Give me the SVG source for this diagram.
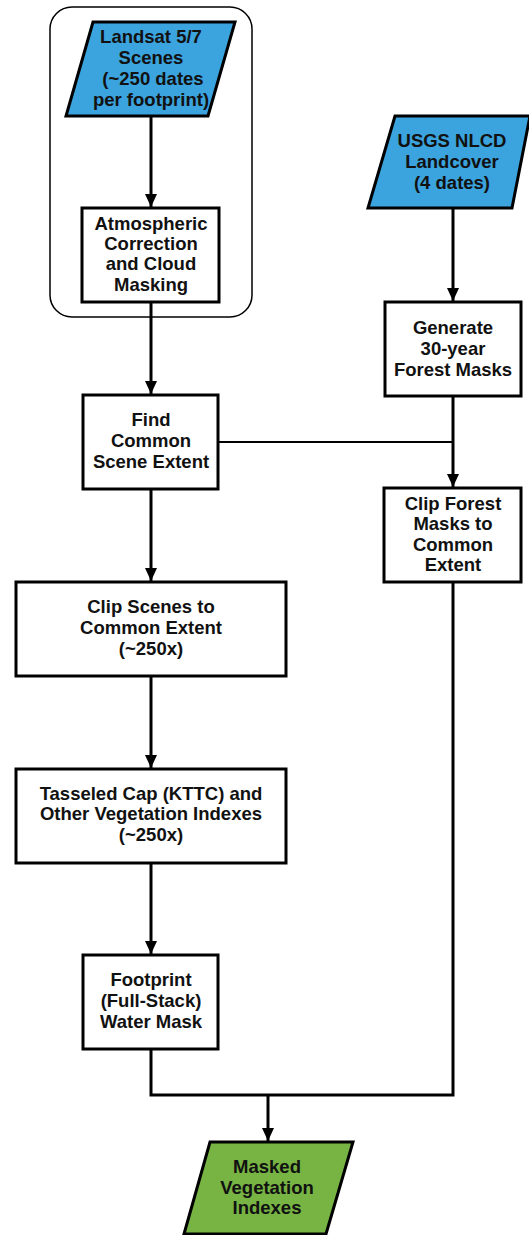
<svg xmlns="http://www.w3.org/2000/svg" width="529" height="1235" viewBox="0 0 529 1235">
<style>
.box{fill:#fff;stroke:#000;stroke-width:3}
.in{fill:#3ba3dd;stroke:#000;stroke-width:3;stroke-linejoin:miter}
.out{fill:#77b443;stroke:#000;stroke-width:3}
.c{fill:none;stroke:#000;stroke-width:3}
.thin{fill:none;stroke:#000;stroke-width:2}
text{font-family:"Liberation Sans",Arial,sans-serif;font-weight:bold;font-size:18.5px;text-anchor:middle;fill:#111}
</style>
<defs>
<marker id="ah" markerUnits="userSpaceOnUse" markerWidth="14" markerHeight="14" viewBox="0 0 14 14" refX="13" refY="7" orient="auto">
<path d="M0,1 L13,7 L0,13 Z" fill="#000"/>
</marker>
</defs>
<rect x="50" y="7" width="202" height="310" rx="22" ry="22" fill="none" stroke="#000" stroke-width="1.5"/>
<g id="connectors">
<path class="c" d="M151,116 V207" marker-end="url(#ah)"/>
<path class="c" d="M151,302 V394" marker-end="url(#ah)"/>
<path class="c" d="M453,208 V301" marker-end="url(#ah)"/>
<path class="c" d="M453,396 V487" marker-end="url(#ah)"/>
<path class="thin" d="M218,442 H453"/>
<path class="c" d="M151,489 V581" marker-end="url(#ah)"/>
<path class="c" d="M151,676 V768" marker-end="url(#ah)"/>
<path class="c" d="M151,863 V954" marker-end="url(#ah)"/>
<path class="c" d="M151,1049 V1095 H453 V582"/>
<path class="c" d="M268,1095 V1141" marker-end="url(#ah)"/>
</g>
<g id="landsat">
<polygon class="in" points="93,22 235,22 208,116 66,116"/>
<text x="151" y="42.5">Landsat 5/7</text>
<text x="151" y="63.5">Scenes</text>
<text x="153" y="84.5">(~250 dates</text>
<text x="151" y="105.5">per footprint)</text>
</g>
<g id="atmos">
<rect class="box" x="82" y="208" width="137" height="94"/>
<text x="151" y="229.5">Atmospheric</text>
<text x="151" y="249.5">Correction</text>
<text x="151" y="269.5">and Cloud</text>
<text x="151" y="290.5">Masking</text>
</g>
<g id="nlcd">
<polygon class="in" points="395,116 530,116 512,208 368,208"/>
<text x="452" y="146.5">USGS NLCD</text>
<text x="452" y="167.5">Landcover</text>
<text x="452" y="188.5">(4 dates)</text>
</g>
<g id="generate">
<rect class="box" x="385" y="302" width="136" height="94"/>
<text x="453" y="333.5">Generate</text>
<text x="453" y="354.5">30-year</text>
<text x="453" y="375.5">Forest Masks</text>
</g>
<g id="find">
<rect class="box" x="83" y="395" width="135" height="94"/>
<text x="151" y="425.5">Find</text>
<text x="151" y="446.5">Common</text>
<text x="151" y="467.5">Scene Extent</text>
</g>
<g id="clipforest">
<rect class="box" x="384" y="488" width="137" height="94"/>
<text x="453" y="509.5">Clip Forest</text>
<text x="453" y="529.5">Masks to</text>
<text x="453" y="550.5">Common</text>
<text x="453" y="570.5">Extent</text>
</g>
<g id="clipscenes">
<rect class="box" x="16" y="582" width="270" height="94"/>
<text x="151" y="612.5">Clip Scenes to</text>
<text x="151" y="633.5">Common Extent</text>
<text x="151" y="654.5">(~250x)</text>
</g>
<g id="tasseled">
<rect class="box" x="16" y="769" width="270" height="94"/>
<text x="151" y="799.5">Tasseled Cap (KTTC) and</text>
<text x="151" y="819.5">Other Vegetation Indexes</text>
<text x="151" y="840.5">(~250x)</text>
</g>
<g id="footprint">
<rect class="box" x="83" y="955" width="135" height="94"/>
<text x="151" y="985.5">Footprint</text>
<text x="151" y="1006.5">(Full-Stack)</text>
<text x="151" y="1027.5">Water Mask</text>
</g>
<g id="masked">
<polygon class="out" points="210,1142 353,1142 326,1234 184,1234"/>
<text x="267" y="1172.5">Masked</text>
<text x="267" y="1193.5">Vegetation</text>
<text x="267" y="1213.5">Indexes</text>
</g>
</svg>
